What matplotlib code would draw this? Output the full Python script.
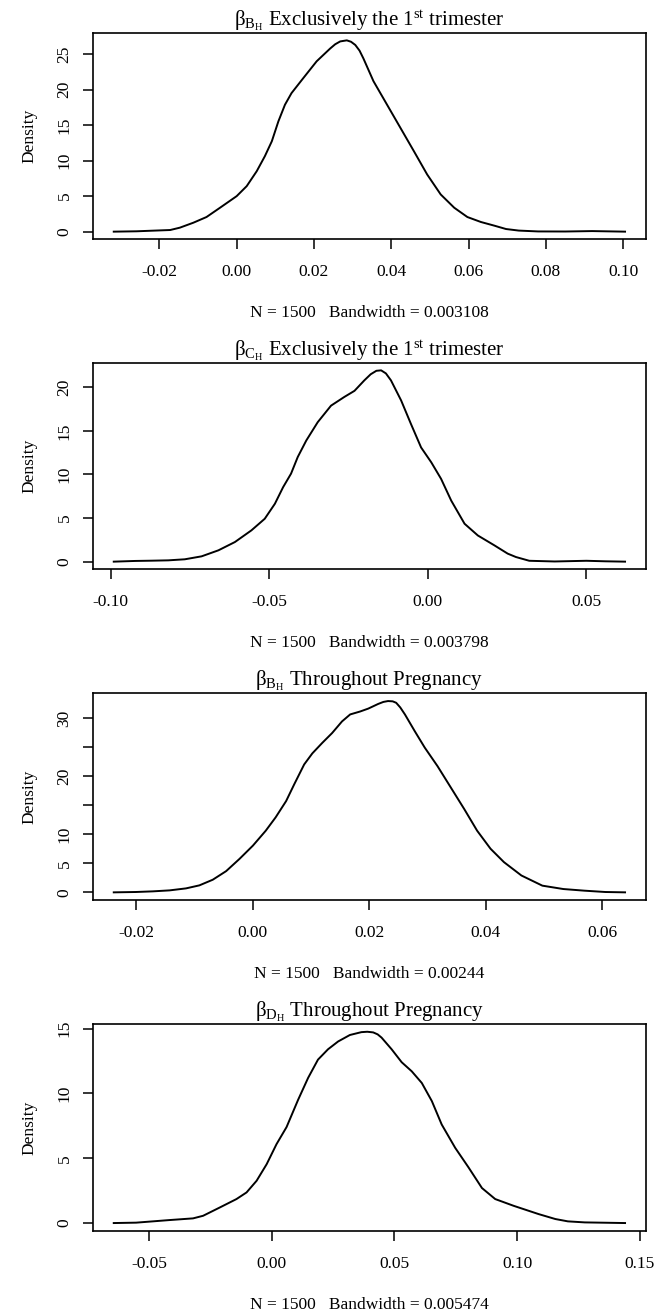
import numpy as np
import matplotlib.pyplot as plt

# Panel 1: beta_BH, exclusively the 1st trimester
x_b1 = [-0.0318, -0.0259, -0.0216, -0.0172, -0.0147, -0.0112, -0.0078, -0.0043, 0.0000,
        0.0026, 0.0052, 0.0073, 0.0091, 0.0108, 0.0125, 0.0142, 0.0172, 0.0207, 0.0242,
        0.0255, 0.0268, 0.0285, 0.0296, 0.0307, 0.0318, 0.0328, 0.0354, 0.0389, 0.0424,
        0.0459, 0.0493, 0.0528, 0.0563, 0.0597, 0.0632, 0.0667, 0.0697, 0.0730, 0.0780,
        0.0850, 0.0920, 0.1005]
y_b1 = [0.0, 0.05, 0.14, 0.23, 0.56, 1.26, 2.06, 3.37, 5.0,
        6.41, 8.52, 10.63, 12.73, 15.54, 17.88, 19.52, 21.6, 24.0, 25.8,
        26.4, 26.8, 26.95, 26.75, 26.3, 25.5, 24.4, 21.2, 17.9, 14.6,
        11.3, 8.05, 5.24, 3.37, 2.06, 1.36, 0.84, 0.37, 0.15, 0.03,
        0.02, 0.08, 0.0]

# Panel 2: beta_CH, exclusively the 1st trimester
x_c1 = [-0.0990, -0.0923, -0.0871, -0.0818, -0.0766, -0.0713, -0.0660, -0.0608, -0.0556,
        -0.0514, -0.0482, -0.0456, -0.0431, -0.0410, -0.0383, -0.0347, -0.0305, -0.0263,
        -0.0231, -0.0200, -0.0180, -0.0162, -0.0147, -0.0132, -0.0116, -0.0084, -0.0053,
        -0.0021, 0.0011, 0.0042, 0.0074, 0.0116, 0.0158, 0.0210, 0.0252, 0.0278, 0.0320,
        0.0400, 0.0500, 0.0560, 0.0622]
y_c1 = [0.0, 0.08, 0.11, 0.15, 0.27, 0.61, 1.30, 2.25, 3.59,
        4.92, 6.64, 8.55, 10.1, 12.0, 13.9, 16.0, 17.9, 18.9,
        19.6, 20.8, 21.5, 21.9, 21.95, 21.6, 20.8, 18.5, 15.8,
        13.1, 11.4, 9.5, 7.0, 4.35, 3.0, 1.87, 0.92, 0.53, 0.10,
        0.02, 0.10, 0.04, 0.0]

# Panel 3: beta_BH, throughout pregnancy
x_b2 = [-0.0239, -0.0201, -0.0172, -0.0143, -0.0115, -0.0092, -0.0069, -0.0046, -0.0023,
        0.0000, 0.0022, 0.0039, 0.0057, 0.0071, 0.0088, 0.0102, 0.0119, 0.0136, 0.0153,
        0.0167, 0.0184, 0.0198, 0.0215, 0.0224, 0.0232, 0.0240, 0.0246, 0.0253, 0.0261,
        0.0278, 0.0295, 0.0317, 0.0340, 0.0363, 0.0385, 0.0408, 0.0431, 0.0461, 0.0497,
        0.0533, 0.0569, 0.0605, 0.0639]
y_b2 = [0.0, 0.06, 0.17, 0.34, 0.68, 1.20, 2.17, 3.65, 5.76,
        8.04, 10.6, 12.9, 15.7, 18.6, 22.0, 23.9, 25.7, 27.4, 29.4,
        30.6, 31.1, 31.6, 32.4, 32.75, 32.9, 32.85, 32.6, 31.8, 30.6,
        27.7, 24.9, 21.7, 18.0, 14.3, 10.6, 7.5, 5.2, 2.9, 1.15,
        0.57, 0.29, 0.06, 0.0]

# Panel 4: beta_DH, throughout pregnancy
x_d2 = [-0.0643, -0.0552, -0.0484, -0.0416, -0.0320, -0.0279, -0.0211, -0.0143, -0.0102,
        -0.0061, -0.0020, 0.0020, 0.0061, 0.0108, 0.0149, 0.0189, 0.0230, 0.0271,
        0.0319, 0.0366, 0.0390, 0.0414, 0.0432, 0.0448, 0.0489, 0.0530, 0.0571, 0.0612,
        0.0653, 0.0693, 0.0748, 0.0802, 0.0857, 0.0911, 0.0986, 0.1088, 0.1156, 0.1207,
        0.1276, 0.1440]
y_d2 = [0.0, 0.03, 0.13, 0.23, 0.36, 0.56, 1.2, 1.85, 2.36,
        3.26, 4.54, 6.08, 7.4, 9.5, 11.2, 12.6, 13.4, 14.0,
        14.5, 14.72, 14.75, 14.7, 14.55, 14.3, 13.4, 12.4, 11.7, 10.8,
        9.4, 7.6, 5.8, 4.3, 2.7, 1.85, 1.33, 0.69, 0.31, 0.13,
        0.05, 0.0]

titles = [
    r"β$_{\mathrm{B}_{\mathrm{H}}}$ Exclusively the 1$^{\mathrm{st}}$ trimester",
    r"β$_{\mathrm{C}_{\mathrm{H}}}$ Exclusively the 1$^{\mathrm{st}}$ trimester",
    r"β$_{\mathrm{B}_{\mathrm{H}}}$ Throughout Pregnancy",
    r"β$_{\mathrm{D}_{\mathrm{H}}}$ Throughout Pregnancy",
]
bandwidths = ["0.003108", "0.003798", "0.00244", "0.005474"]
n_obs = 1500

xticks = [
    [-0.02, 0.00, 0.02, 0.04, 0.06, 0.08, 0.10],
    [-0.10, -0.05, 0.00, 0.05],
    [-0.02, 0.00, 0.02, 0.04, 0.06],
    [-0.05, 0.00, 0.05, 0.10, 0.15],
]
yticks = [
    [0, 5, 10, 15, 20, 25],
    [0, 5, 10, 15, 20],
    [0, 5, 10, 15, 20, 25, 30],
    [0, 5, 10, 15],
]
# R drops labels that would overlap
yticklabels = [
    ["0", "5", "10", "15", "20", "25"],
    ["0", "5", "10", "15", "20"],
    ["0", "5", "10", "", "20", "", "30"],
    ["0", "5", "10", "15"],
]

series = [(x_b1, y_b1), (x_c1, y_c1), (x_b2, y_b2), (x_d2, y_d2)]

plt.rcParams.update({
    "font.family": "serif",
    "font.serif": ["Liberation Serif"],
    "mathtext.fontset": "custom",
    "mathtext.rm": "Liberation Serif",
    "mathtext.it": "Liberation Serif:italic",
    "mathtext.bf": "Liberation Serif:bold",
})

W, H = 657, 1312
fig = plt.figure(figsize=(W / 100, H / 100), dpi=100)

left_px, right_px = 93.3, 645.5
box_h = 206.6
bottoms_px = [239.3, 569.3, 900.0, 1230.7]

for i, (xs, ys) in enumerate(series):
    ax = fig.add_axes([left_px / W, 1 - bottoms_px[i] / H,
                       (right_px - left_px) / W, box_h / H])
    ax.plot(xs, ys, color="black", lw=1.4, solid_joinstyle="round")
    ax.margins(x=0.04, y=0.04)

    ax.set_xticks(xticks[i])
    ax.set_xticklabels([f"{v:.2f}" for v in xticks[i]])
    ax.set_yticks(yticks[i])
    ax.set_yticklabels(yticklabels[i], rotation=90, va="center")

    ax.tick_params(axis="both", direction="out", length=7, width=1.1,
                   labelsize=12.5, colors="black")
    ax.tick_params(axis="x", pad=11)
    ax.tick_params(axis="y", pad=8)
    for sp in ax.spines.values():
        sp.set_linewidth(1.2)

    ax.set_title(titles[i], fontsize=15, pad=4)
    ax.set_ylabel("Density", fontsize=12.5, labelpad=14)
    ax.set_xlabel(f"N = {n_obs}   Bandwidth = {bandwidths[i]}", fontsize=12.5, labelpad=18)

fig.savefig("out.png", dpi=100)
